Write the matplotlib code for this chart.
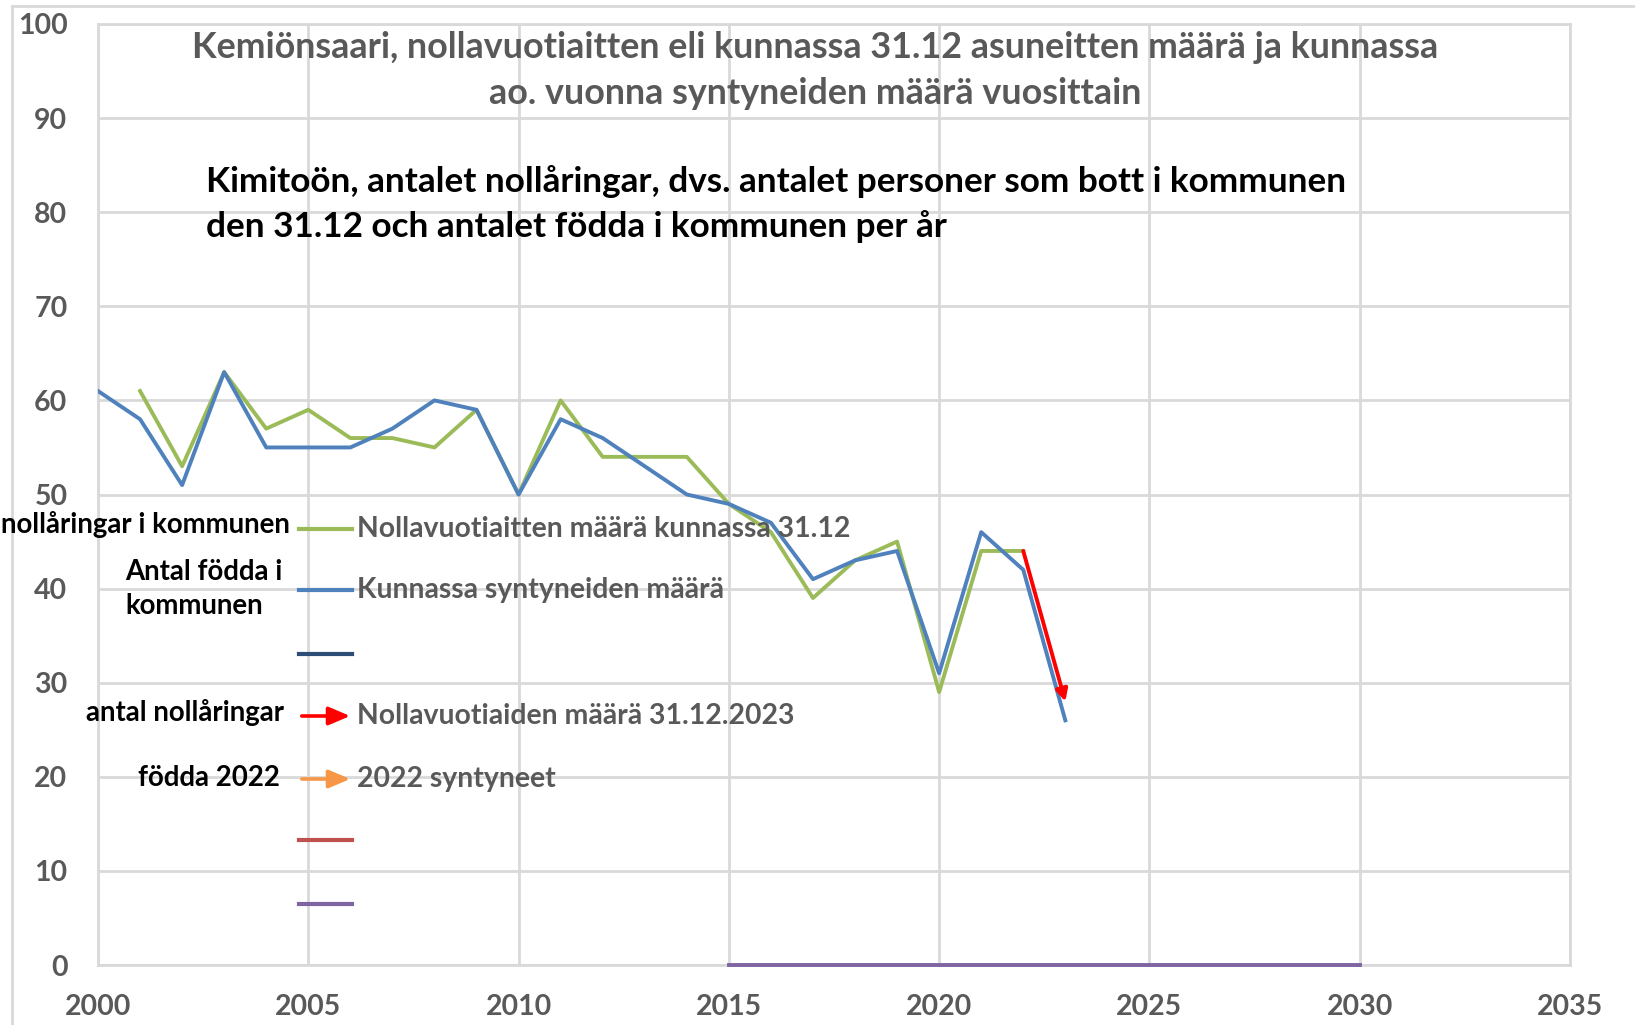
import matplotlib.pyplot as plt
from matplotlib.lines import Line2D
from matplotlib.patches import FancyArrowPatch

# data
years_zero = list(range(2001, 2023))
zero_year_olds = [61, 53, 63, 57, 59, 56, 56, 55, 59, 50, 60, 54, 54, 54, 49, 46, 39, 43, 45, 29, 44, 44]
years_born = list(range(2000, 2024))
born = [61, 58, 51, 63, 55, 55, 55, 57, 60, 59, 50, 58, 56, 53, 50, 49, 47, 41, 43, 44, 31, 46, 42, 26]
arrow_years = [2022, 2023]
arrow_values = [44, 28]
base_years = [2015, 2030]
base_values = [0, 0]

x_ticks = list(range(2000, 2036, 5))
y_ticks = list(range(0, 101, 10))

legend_labels = ["Nollavuotiaitten määrä kunnassa 31.12", "Kunnassa syntyneiden määrä", "",
                 "Nollavuotiaiden määrä 31.12.2023", "2022 syntyneet", "", ""]
legend_colors = ["#9bbb59", "#4f81bd", "#2c4d75", "#ff0000", "#f79646", "#c0504d", "#8064a2"]
legend_arrow = [False, False, False, True, True, False, False]

plt.rcParams['font.family'] = ['Lato', 'DejaVu Sans']

W, H = 1635, 1025
fig = plt.figure(figsize=(W / 100, H / 100), dpi=100)
ax = fig.add_axes([98 / W, 1 - 965 / H, (1570 - 98) / W, (965 - 24) / H])

grid_c = "#d9d9d9"
ax.set_xlim(2000, 2035)
ax.set_ylim(0, 100)
ax.set_xticks(x_ticks)
ax.set_yticks(y_ticks)
ax.grid(True, color=grid_c, linewidth=2)
for s in ax.spines.values():
    s.set_color(grid_c)
    s.set_linewidth(2)
ax.tick_params(length=0, labelsize=20.5, colors="#595959")
ax.tick_params(axis='x', pad=21)
ax.tick_params(axis='y', pad=22)
for lab in ax.get_xticklabels() + ax.get_yticklabels():
    lab.set_fontweight('bold')

ax.plot(base_years, base_values, color="#8064a2", linewidth=2.8, clip_on=False, zorder=3)
ax.plot(years_zero, zero_year_olds, color="#9bbb59", linewidth=2.8, zorder=3)
ax.plot(years_born, born, color="#4f81bd", linewidth=2.8, zorder=4)
ax.annotate("", xy=(arrow_years[1], arrow_values[1]), xytext=(arrow_years[0], arrow_values[0]),
            arrowprops=dict(arrowstyle="-|>,head_length=0.7,head_width=0.35", color="#ff0000",
                            lw=2.8, shrinkA=0, shrinkB=0), zorder=5)

# titles
fig.text(815 / W, 1 - 47 / H, "Kemiönsaari, nollavuotiaitten eli kunnassa 31.12 asuneitten määrä ja kunnassa",
         ha='center', va='center', fontsize=25.8, fontweight='bold', color="#595959")
fig.text(815 / W, 1 - 93 / H, "ao. vuonna syntyneiden määrä vuosittain",
         ha='center', va='center', fontsize=25.8, fontweight='bold', color="#595959")
fig.text(206 / W, 1 - 182 / H, "Kimitoön, antalet nollåringar, dvs. antalet personer som bott i kommunen",
         ha='left', va='center', fontsize=25.3, fontweight='bold', color="black")
fig.text(206 / W, 1 - 227 / H, "den 31.12 och antalet födda i kommunen per år",
         ha='left', va='center', fontsize=25.3, fontweight='bold', color="black")

# legend drawn by hand
rows = [529, 590, 654, 716, 779, 840, 904]
for y, lab, c, arr in zip(rows, legend_labels, legend_colors, legend_arrow):
    fy = 1 - y / H
    if arr:
        fig.patches.append(FancyArrowPatch(
            (299 / W, fy), (353 / W, fy), transform=fig.transFigure,
            arrowstyle="-|>,head_length=13,head_width=5.5", color=c, lw=2.6, mutation_scale=1))
    else:
        fig.lines.append(Line2D([299 / W, 352 / W], [fy, fy], transform=fig.transFigure,
                                color=c, linewidth=3))
    if lab:
        fig.text(357 / W, fy, lab, ha='left', va='center', fontsize=20.4, color="#595959",
                 fontweight='bold')

# Swedish notes next to the legend
fig.text(290 / W, 1 - 524 / H, "nollåringar i kommunen", ha='right', va='center',
         fontsize=19.9, fontweight='bold', color="black")
fig.text(125 / W, 1 - 589 / H, "Antal födda i\nkommunen", ha='left', va='center',
         fontsize=19.9, fontweight='bold', color="black", linespacing=1.4)
fig.text(284 / W, 1 - 713 / H, "antal nollåringar", ha='right', va='center',
         fontsize=19.9, fontweight='bold', color="black")
fig.text(280 / W, 1 - 778 / H, "födda 2022", ha='right', va='center',
         fontsize=19.9, fontweight='bold', color="black")

# outer chart frame
fig.lines.append(Line2D([12 / W, 12 / W], [0, 1 - 6 / H], transform=fig.transFigure, color=grid_c, linewidth=2))
fig.lines.append(Line2D([12 / W, 1], [1 - 6 / H, 1 - 6 / H], transform=fig.transFigure, color=grid_c, linewidth=2))

fig.savefig("out.png", dpi=100)
